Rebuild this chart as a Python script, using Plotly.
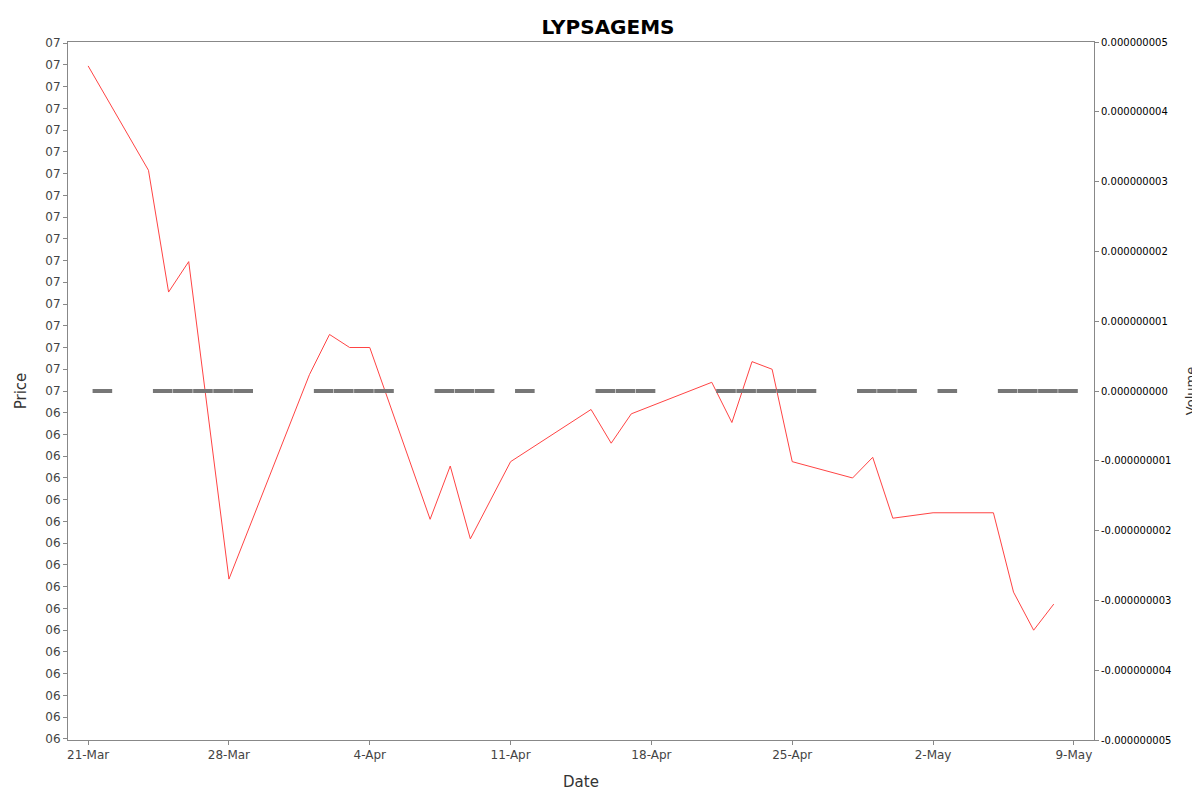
import plotly.graph_objects as go
import pandas as pd

price_dates = ["2014-03-21", "2014-03-24", "2014-03-25", "2014-03-26", "2014-03-28",
               "2014-04-01", "2014-04-02", "2014-04-03", "2014-04-04", "2014-04-07",
               "2014-04-08", "2014-04-09", "2014-04-11", "2014-04-15", "2014-04-16",
               "2014-04-17", "2014-04-21", "2014-04-22", "2014-04-23", "2014-04-24",
               "2014-04-25", "2014-04-28", "2014-04-29", "2014-04-30", "2014-05-02",
               "2014-05-05", "2014-05-06", "2014-05-07", "2014-05-08"]
price_values = [0.07119, 0.07023, 0.06911, 0.06939, 0.06647,
                0.06835, 0.06872, 0.06860, 0.06860, 0.06702,
                0.06751, 0.06684, 0.06755, 0.06803, 0.06772,
                0.06799, 0.06828, 0.06791, 0.06847, 0.06840,
                0.06755, 0.06740, 0.06759, 0.06703, 0.06708,
                0.06708, 0.06635, 0.06600, 0.06624]

volume_dates = ["2014-03-21", "2014-03-24", "2014-03-25", "2014-03-26", "2014-03-27",
                "2014-03-28", "2014-04-01", "2014-04-02", "2014-04-03", "2014-04-04",
                "2014-04-07", "2014-04-08", "2014-04-09", "2014-04-11", "2014-04-15",
                "2014-04-16", "2014-04-17", "2014-04-21", "2014-04-22", "2014-04-23",
                "2014-04-24", "2014-04-25", "2014-04-28", "2014-04-29", "2014-04-30",
                "2014-05-02", "2014-05-05", "2014-05-06", "2014-05-07", "2014-05-08"]
volume_values = [0] * len(volume_dates)

price_ticks = [0.0650 + k * 0.0002 for k in range(33)]
price_tick_text = ["06"] * 16 + ["07"] * 17
vol_ticks = [k * 1e-9 for k in range(-5, 6)]
vol_tick_text = ["%.9f" % v for v in vol_ticks]
date_ticks = ["2014-03-21", "2014-03-28", "2014-04-04", "2014-04-11",
              "2014-04-18", "2014-04-25", "2014-05-02", "2014-05-09"]
date_text = ["21-Mar", "28-Mar", "4-Apr", "11-Apr", "18-Apr", "25-Apr", "2-May", "9-May"]

vol_x = pd.to_datetime(volume_dates) + pd.Timedelta(hours=17)

fig = go.Figure()
fig.add_trace(go.Scatter(x=vol_x, y=volume_values, yaxis="y2", mode="markers",
                         marker=dict(symbol="line-ew", size=14, color="#777777",
                                     line=dict(width=4, color="#777777"))))
fig.add_trace(go.Scatter(x=price_dates, y=price_values, mode="lines",
                         line=dict(color="#ff4444", width=1)))
fig.update_layout(
    width=1200, height=792, showlegend=False,
    paper_bgcolor="white", plot_bgcolor="white",
    margin=dict(l=58, r=106, t=34, b=49),
    title=dict(text="<b>LYPSAGEMS</b>", x=0.5, y=0.985, font=dict(size=20, color="black", family="DejaVu Sans")),
    font=dict(family="DejaVu Sans", size=12, color="#444444"),
    xaxis=dict(range=["2014-03-20 00:00", "2014-05-10 00:00"], tickvals=date_ticks, ticktext=date_text,
               showgrid=False, showline=True, linecolor="#888888", mirror=True, ticks="outside",
               ticklen=4, tickcolor="#888888",
               title=dict(text="Date", font=dict(size=15, color="#333333"))),
    yaxis=dict(range=[0.06499, 0.07141], tickvals=price_ticks, ticktext=price_tick_text,
               showgrid=False, showline=True, linecolor="#888888", mirror=True, ticks="outside",
               ticklen=4, tickcolor="#888888", zeroline=False,
               title=dict(text="Price", font=dict(size=15, color="#333333"))),
    yaxis2=dict(overlaying="y", side="right", range=[-5e-9, 5e-9], tickvals=vol_ticks,
                ticktext=vol_tick_text, showgrid=False, zeroline=False, ticks="outside",
                ticklen=4, tickcolor="#888888", tickfont=dict(size=10, color="black"),
                title=dict(text="Volume", font=dict(size=13, color="#333333"))),
)
fig.write_html("out.html")
